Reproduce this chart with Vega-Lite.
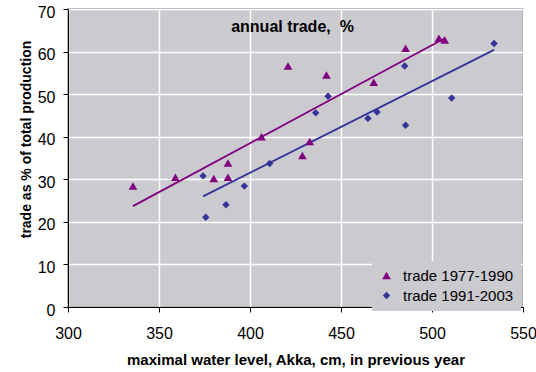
{
  "$schema": "https://vega.github.io/schema/vega-lite/v6.json",
  "width": 455,
  "height": 298,
  "autosize": {"type": "none"},
  "padding": {"left": 68, "top": 9, "right": 13, "bottom": 65},
  "background": "white",
  "config": {
    "font": "Liberation Sans",
    "view": {"fill": "#CBCACF", "stroke": "#8C8C8C", "strokeWidth": 1.5}
  },
  "title": {
    "text": "annual trade, \u00a0%",
    "fontSize": 16,
    "fontWeight": "bold",
    "color": "black",
    "anchor": "middle",
    "offset": -31,
    "dx": -3
  },
  "datasets": {
    "pts": [
      {"series": "trade 1977-1990", "level": 335.7, "trade": 28.4},
      {"series": "trade 1977-1990", "level": 359.0, "trade": 30.5},
      {"series": "trade 1977-1990", "level": 380.1, "trade": 30.2},
      {"series": "trade 1977-1990", "level": 387.9, "trade": 33.8},
      {"series": "trade 1977-1990", "level": 387.9, "trade": 30.5},
      {"series": "trade 1977-1990", "level": 406.3, "trade": 40.0},
      {"series": "trade 1977-1990", "level": 420.9, "trade": 56.6},
      {"series": "trade 1977-1990", "level": 428.8, "trade": 35.6},
      {"series": "trade 1977-1990", "level": 432.8, "trade": 38.9},
      {"series": "trade 1977-1990", "level": 442.0, "trade": 54.5},
      {"series": "trade 1977-1990", "level": 468.0, "trade": 52.8},
      {"series": "trade 1977-1990", "level": 485.5, "trade": 60.8},
      {"series": "trade 1977-1990", "level": 503.8, "trade": 63.1},
      {"series": "trade 1977-1990", "level": 507.0, "trade": 62.7},
      {"series": "trade 1991-2003", "level": 374.2, "trade": 30.8},
      {"series": "trade 1991-2003", "level": 375.7, "trade": 21.1},
      {"series": "trade 1991-2003", "level": 386.8, "trade": 24.0},
      {"series": "trade 1991-2003", "level": 396.9, "trade": 28.4},
      {"series": "trade 1991-2003", "level": 410.8, "trade": 33.7},
      {"series": "trade 1991-2003", "level": 436.1, "trade": 45.6},
      {"series": "trade 1991-2003", "level": 442.9, "trade": 49.5},
      {"series": "trade 1991-2003", "level": 464.8, "trade": 44.3},
      {"series": "trade 1991-2003", "level": 469.8, "trade": 45.8},
      {"series": "trade 1991-2003", "level": 485.0, "trade": 56.6},
      {"series": "trade 1991-2003", "level": 485.5, "trade": 42.7},
      {"series": "trade 1991-2003", "level": 510.8, "trade": 49.1},
      {"series": "trade 1991-2003", "level": 534.1, "trade": 61.9}
    ]
  },
  "data": {"name": "pts"},
  "encoding": {
    "x": {
      "field": "level",
      "type": "quantitative",
      "scale": {"domain": [300, 550], "nice": false, "zero": false},
      "axis": {
        "title": "maximal water level, Akka, cm, in previous year",
        "titleFont": "Liberation Sans",
        "titleFontSize": 15,
        "titleFontWeight": "bold",
        "titleColor": "black",
        "titleBaseline": "alphabetic",
        "titleY": 57,
        "values": [300, 350, 400, 450, 500, 550],
        "labelFontSize": 16,
        "labelColor": "black",
        "labelPadding": 13,
        "labelFlush": false,
        "tickSize": 5,
        "tickColor": "black",
        "domainColor": "black",
        "grid": true,
        "gridColor": "white",
        "gridWidth": 1.5,
        "gridOpacity": 1
      }
    },
    "y": {
      "field": "trade",
      "type": "quantitative",
      "scale": {"domain": [0, 70], "nice": false},
      "axis": {
        "title": "trade as % of total production",
        "titleFontSize": 14,
        "titleFontWeight": "bold",
        "titleColor": "black",
        "titleAngle": 270,
        "titleAlign": "center",
        "titleBaseline": "alphabetic",
        "titleX": -38,
        "titleY": 130,
        "values": [0, 10, 20, 30, 40, 50, 60, 70],
        "labelFontSize": 16,
        "labelColor": "black",
        "labelPadding": 8,
        "labelOffset": 3,
        "labelFlush": false,
        "tickSize": 5,
        "tickColor": "black",
        "domainColor": "black",
        "grid": true,
        "gridColor": "white",
        "gridWidth": 1.5,
        "gridOpacity": 1
      }
    }
  },
  "layer": [
    {
      "transform": [
        {"filter": "datum.series === 'trade 1977-1990'"},
        {"regression": "trade", "on": "level"}
      ],
      "mark": {"type": "line", "color": "#800080", "strokeWidth": 1.8}
    },
    {
      "transform": [
        {"filter": "datum.series === 'trade 1991-2003'"},
        {"regression": "trade", "on": "level"}
      ],
      "mark": {"type": "line", "color": "#333399", "strokeWidth": 1.8}
    },
    {
      "mark": {"type": "point", "filled": true, "opacity": 1, "strokeWidth": 0},
      "encoding": {
        "color": {
          "field": "series",
          "type": "nominal",
          "scale": {"domain": ["trade 1977-1990", "trade 1991-2003"], "range": ["#800080", "#333399"]},
          "legend": {
            "title": null,
            "orient": "none",
            "legendX": 304,
            "legendY": 252,
            "fillColor": "#CBCACF",
            "padding": 7,
            "labelFontSize": 15,
            "labelColor": "black",
            "labelOffset": 9,
            "rowPadding": 4,
            "symbolSize": 65,
            "symbolStrokeWidth": 0
          }
        },
        "shape": {
          "field": "series",
          "type": "nominal",
          "scale": {"domain": ["trade 1977-1990", "trade 1991-2003"], "range": ["triangle-up", "diamond"]},
          "legend": {
            "title": null,
            "orient": "none",
            "legendX": 304,
            "legendY": 252,
            "fillColor": "#CBCACF",
            "padding": 7,
            "labelFontSize": 15,
            "labelColor": "black",
            "labelOffset": 9,
            "rowPadding": 4,
            "symbolSize": 65,
            "symbolStrokeWidth": 0
          }
        },
        "size": {
          "field": "series",
          "type": "nominal",
          "scale": {"domain": ["trade 1977-1990", "trade 1991-2003"], "range": [75, 55]},
          "legend": null
        }
      }
    }
  ]
}
